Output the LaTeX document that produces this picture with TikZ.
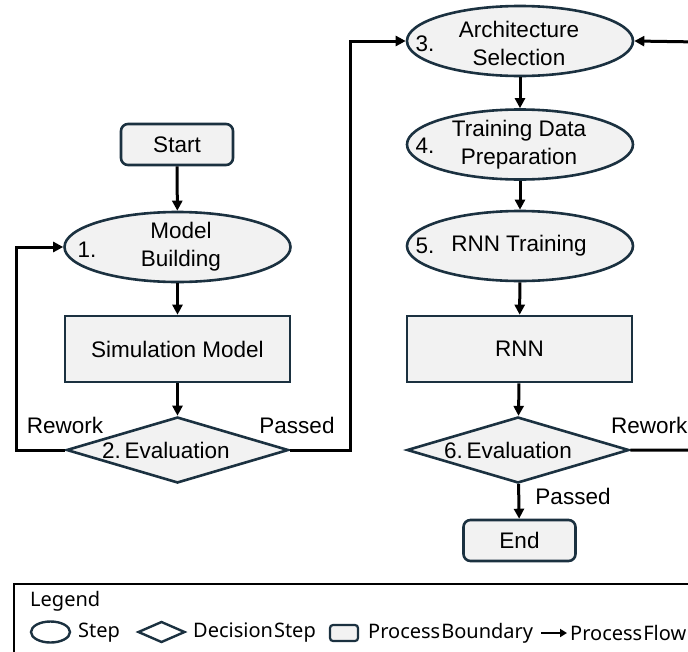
\documentclass[tikz,border=0pt]{standalone}
\usepackage{fontspec}
\setmainfont{Liberation Sans}
\newfontfamily\legendfont{Noto Sans}
\usetikzlibrary{shapes.geometric,arrows.meta}
\definecolor{shapefill}{HTML}{F2F2F2}
\definecolor{shapeline}{HTML}{1B3140}
\tikzset{
  base/.style={draw=shapeline, fill=shapefill, line width=2.6pt, inner sep=0pt},
  stepshape/.style={base, ellipse, minimum width=226pt, minimum height=70pt},
  boxshape/.style={base, rectangle, minimum width=225pt, minimum height=66pt, font=\fontsize{22.5}{27}\selectfont},
  termshape/.style={base, rectangle, rounded corners=7pt, minimum width=112pt, minimum height=41pt, font=\fontsize{22.5}{27}\selectfont},
  decshape/.style={base, diamond, minimum width=222pt, minimum height=66pt},
  txt/.style={inner sep=0pt, font=\fontsize{22.5}{28}\selectfont, align=center},
  flow/.style={line width=3pt, -{Triangle[length=10pt,width=10pt]}},
}
\begin{document}
\begin{tikzpicture}[x=1pt, y=-1pt]
\useasboundingbox (0,0) rectangle (688,651);

% left column
\node[termshape] (start) at (177,144.5) {Start};
\node[stepshape] (e1) at (177.5,247) {};
\node[txt] (t1) at (181,247) {Model\\Building};
\node[txt] (n1) at (87,250) {1.};
\node[boxshape] (sim) at (177.5,349) {Simulation Model};
\node[decshape] (d2) at (177.5,450) {};
\node[txt] (t2) at (166,450) {2.\,Evaluation};

% right column
\node[stepshape] (e3) at (520,41) {};
\node[txt] (t3) at (519,43) {Architecture\\Selection};
\node[txt] (n3) at (425,44) {3.};
\node[stepshape] (e4) at (520,144.5) {};
\node[txt] (t4) at (519,145) {Training Data\\Preparation};
\node[txt] (n4) at (425,146) {4.};
\node[stepshape] (e5) at (520,246) {};
\node[txt] (t5) at (519,246) {RNN Training};
\node[txt] (n5) at (425,246) {5.};
\node[boxshape] (rnn) at (519.5,349) {RNN};
\node[decshape] (d6) at (518,450) {};
\node[txt] (t6) at (508,450) {6.\,Evaluation};
\node[termshape] (end) at (519.5,540.5) {End};

% flow labels
\node[txt] (lrw1) at (65,425) {Rework};
\node[txt] (lps1) at (297,425) {Passed};
\node[txt, anchor=west] (lrw2) at (611,425) {Rework};
\node[txt] (lps2) at (573,496) {Passed};

% connectors
\coordinate (lw) at (16,450);
\coordinate (pw) at (350,450);
\coordinate (rb) at (700,450);
\coordinate (rt) at (700,42);
\draw[flow] (start) -- (e1);
\draw[flow] (e1) -- (sim);
\draw[flow] (sim) -- (d2);
\draw[flow] (d2.west) -- (lw) |- (e1.west);
\draw[flow] (d2.east) -- (pw) |- (e3.west);
\draw[flow] (e3) -- (e4);
\draw[flow] (e4) -- (e5);
\draw[flow] (e5) -- (rnn);
\draw[flow] (rnn) -- (d6);
\draw[flow] (d6) -- (end);
\draw[flow] (d6.east) -- (rb) -- (rt) -- (e3.east);

% legend
\draw[line width=1.4pt, draw=black] (14,584) rectangle (720,680);
\begin{scope}[every node/.style={inner sep=0pt, font=\legendfont\fontsize{20}{23}\selectfont}]
\node[anchor=west] (lgtitle) at (30,601) {Legend};
\node[draw=shapeline, line width=2.4pt, ellipse, minimum width=39pt, minimum height=21pt] (lgell) at (50.5,632) {};
\node[anchor=west] (lgstep) at (78,633) {Step};
\node[draw=shapeline, line width=2.4pt, diamond, minimum width=47pt, minimum height=21pt] (lgdia) at (161.5,632) {};
\node[anchor=west] (lgdec) at (193,633) {Decision\hspace{1pt}Step};
\node[draw=shapeline, fill=shapefill, line width=2.2pt, rounded corners=3pt, minimum width=28pt, minimum height=16pt] (lgbox) at (344,633) {};
\node[anchor=west] (lgbound) at (368,633) {Process\hspace{1pt}Boundary};
\coordinate (lga) at (541,633);
\coordinate (lgb) at (567,633);
\draw[line width=2.2pt, -{Triangle[length=7pt,width=8pt]}] (lga) -- (lgb);
\node[anchor=west] (lgflow) at (570,633) {Process\hspace{1pt}Flow};
\end{scope}
\end{tikzpicture}
\end{document}
